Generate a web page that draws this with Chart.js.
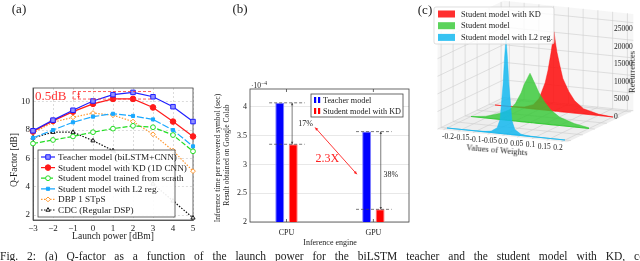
<!DOCTYPE html>
<html lang="en">
<head>
<meta charset="UTF-8">
<title>KD figure</title>
<script src="https://cdn.jsdelivr.net/npm/chart.js"></script>
<style>
  body{margin:0; width:640px; height:261px; overflow:hidden; background:#fff; font-family:"Liberation Serif", serif; color:#222; position:relative;}
  .box{position:absolute;}
  .t{position:absolute; white-space:nowrap; line-height:1; transform:translate(-50%,-50%);}
  .r90{transform:translate(-50%,-50%) rotate(-90deg);}
</style>
</head>
<body>
<div class="box" style="left:0;top:0;width:210px;height:261px"><canvas id="chartA"></canvas></div>
<div class="box" style="left:210px;top:0;width:210px;height:261px"><canvas id="chartB"></canvas></div>
<div class="box" style="left:420px;top:0;width:220px;height:160px"><canvas id="chartC"></canvas></div>

<div class="t" style="left:19px;top:8px;font-size:13px">(a)</div>
<div class="t r90" style="left:15px;top:160px;font-size:9.5px">Q-Factor [dB]</div>
<div class="t" style="left:113px;top:237px;font-size:9.5px">Launch power [dBm]</div>

<div class="t" style="left:240px;top:8px;font-size:13px">(b)</div>
<div class="t" style="left:259px;top:85px;font-size:7.5px">·10<sup style="font-size:5.5px">−4</sup></div>
<div class="t r90" style="left:218px;top:158px;font-size:7.6px">Inference time per recovered symbol (sec)</div>
<div class="t r90" style="left:227px;top:155px;font-size:7.6px">Result obtained on Google Colab</div>
<div class="t" style="left:330px;top:243px;font-size:8px">Inference engine</div>

<div class="t" style="left:425px;top:9px;font-size:13px">(c)</div>
<div class="t r90" style="left:632px;top:72px;font-size:8.5px">Recurrences</div>
<div class="t" style="left:497px;top:150px;font-size:8.5px;transform:translate(-50%,-50%) rotate(5deg)">Values of Weights</div>

<div style="position:absolute;left:0;top:250px;font-size:11.5px;word-spacing:6px;white-space:nowrap;line-height:1.2">Fig. 2: (a) Q-factor as a function of the launch power for the biLSTM teacher and the student model with KD, compared to the</div>

<script>
const FONT = "'Liberation Serif', serif";

// (a) Q-factor vs launch power
const launchPower = [-3, -2, -1, 0, 1, 2, 3, 4, 5];
const qTeacher   = [7.95, 8.7, 9.4, 10.05, 10.5, 10.66, 10.35, 9.65, 8.6];
const qStudentKD = [7.9, 8.65, 9.3, 9.85, 10.2, 10.2, 9.6, 8.6, 7.55];
const qScratch   = [7.05, 7.3, 7.55, 7.85, 8.1, 8.3, 8.2, 7.65, 6.5];
const qL2        = [7.45, 8.0, 8.55, 8.95, 9.15, 9.0, 8.75, 8.0, 6.85];
const qDBP       = [7.8, 8.55, 8.9, 9.2, 9.05, 8.6, 7.7, 6.55, 5.1];
const qCDC       = [7.45, 7.85, 7.85, 7.25, 6.55, 5.4, 4.2, 3.0, 1.8];
const qTicks = [2, 4, 6, 8, 10];
const gapTop = 10.72, gapBottom = 10.19;

// (b) inference time (x1e-4 s)
const engines = ['CPU', 'GPU'];
const timeTeacher   = [4.07, 3.57];
const timeStudentKD = [3.35, 2.22];
const timeTicks = [2, 2.5, 3, 3.5, 4];
const timeGain = ['17%', '38%'];

// (c) weight histograms
const weightBins    = [-0.2, -0.15, -0.1, -0.07, -0.05, -0.03, -0.02, -0.01, -0.005, 0, 0.005, 0.01, 0.02, 0.03, 0.05, 0.07, 0.1, 0.15, 0.2];
const countsKD      = [0, 0, 300, 1200, 3200, 7800, 11500, 16500, 19500, 22500, 19500, 16800, 13000, 9500, 6000, 3500, 1500, 400, 0];
const countsStudent = [0, 500, 1800, 3000, 4900, 8200, 10600, 12300, 13200, 14000, 13200, 12300, 10600, 8800, 6200, 4200, 2400, 1000, 200];
const countsL2      = [0, 0, 50, 150, 400, 1500, 4000, 14000, 21500, 27200, 21500, 14000, 4000, 1500, 400, 150, 50, 0, 0];
const weightTicks = [-0.2, -0.15, -0.1, -0.05, 0, 0.05, 0.1, 0.15, 0.2];
const weightTickLabels = ['-0.2', '-0.15', '-0.1', '-0.05', '0.0', '0.05', '0.1', '0.15', '0.2'];
const countTicks = [0, 5000, 10000, 15000, 20000, 25000];

function arrow(ctx, x0, y0, x1, y1, h) {
  const a = Math.atan2(y1 - y0, x1 - x0);
  ctx.beginPath(); ctx.moveTo(x0, y0); ctx.lineTo(x1, y1); ctx.stroke();
  [[x1, y1, a], [x0, y0, a + Math.PI]].forEach(([x, y, t]) => {
    ctx.beginPath();
    ctx.moveTo(x, y);
    ctx.lineTo(x - h * 2 * Math.cos(t) + h * Math.sin(t), y - h * 2 * Math.sin(t) - h * Math.cos(t));
    ctx.lineTo(x - h * 2 * Math.cos(t) - h * Math.sin(t), y - h * 2 * Math.sin(t) + h * Math.cos(t));
    ctx.closePath(); ctx.fill();
  });
}

const framePlugin = {
  id: 'frame',
  beforeDatasetsDraw(chart) {
    const {ctx, chartArea: a} = chart;
    ctx.save();
    ctx.strokeStyle = '#444'; ctx.lineWidth = 0.8;
    ctx.strokeRect(a.left, a.top, a.right - a.left, a.bottom - a.top);
    if (chart.canvas.id === 'chartB') {
      chart.scales.x.ticks.forEach(t => {
        const px = chart.scales.x.getPixelForValue(t.value);
        ctx.beginPath(); ctx.moveTo(px, a.top); ctx.lineTo(px, a.top + 3);
        ctx.moveTo(px, a.bottom); ctx.lineTo(px, a.bottom - 3); ctx.stroke();
      });
    }
    ctx.restore();
  }
};

// ---------- (a)
const seriesA = [
  {label: 'Teacher model (biLSTM+CNN)', data: qTeacher, color: '#1f1fff', style: 'rect', r: 3.2, bg: '#9090ff', dash: []},
  {label: 'Student model with KD (1D CNN)', data: qStudentKD, color: '#ff1a1a', style: 'circle', r: 2.8, bg: '#ff1a1a', dash: []},
  {label: 'Student model trained from scrath', data: qScratch, color: '#22dd22', style: 'circle', r: 2.4, bg: '#ffffff', dash: [5, 2]},
  {label: 'Student model with L2 reg.', data: qL2, color: '#1aa8ff', style: 'rect', r: 2.2, bg: '#1aa8ff', dash: [7, 2]},
  {label: 'DBP 1 STpS', data: qDBP, color: '#ff9933', style: 'rectRot', r: 2.4, bg: '#ffffff', dash: [1.5, 1.5]},
  {label: 'CDC (Regular DSP)', data: qCDC, color: '#111111', style: 'triangle', r: 2.4, bg: '#ffffff', dash: [1.5, 1.5]}
];

const legendA = {
  id: 'legendA',
  afterDraw(chart) {
    const ctx = chart.ctx;
    ctx.save();
    ctx.fillStyle = 'rgba(255,255,255,0.92)';
    ctx.fillRect(38, 150, 137, 67);
    ctx.strokeStyle = '#444'; ctx.lineWidth = 0.8;
    ctx.strokeRect(38, 150, 137, 67);
    ctx.font = '9.2px ' + FONT; ctx.textBaseline = 'middle';
    seriesA.forEach((s, i) => {
      const y = 157 + i * 10.6;
      ctx.strokeStyle = s.color; ctx.lineWidth = 1.2; ctx.setLineDash(s.dash);
      ctx.beginPath(); ctx.moveTo(41, y); ctx.lineTo(55, y); ctx.stroke();
      ctx.setLineDash([]); ctx.lineWidth = 1;
      ctx.fillStyle = s.bg;
      Chart.helpers.drawPoint(ctx, {pointStyle: s.style, radius: s.r, borderWidth: 1, rotation: 0}, 48, y);
      ctx.fillStyle = '#222';
      ctx.fillText(s.label, 58, y + 0.5);
    });
    ctx.restore();
  }
};

const gapPlugin = {
  id: 'gap',
  afterDatasetsDraw(chart) {
    const {ctx, scales: {x, y}} = chart;
    const x0 = x.getPixelForValue(-1), x1 = x.getPixelForValue(3);
    const yt = y.getPixelForValue(gapTop), yb = y.getPixelForValue(gapBottom);
    ctx.save();
    ctx.strokeStyle = '#ff3333'; ctx.fillStyle = '#ff3333'; ctx.lineWidth = 0.8; ctx.setLineDash([3, 2]);
    ctx.beginPath();
    ctx.moveTo(x0, yt); ctx.lineTo(x1, yt);
    ctx.moveTo(x0, yb); ctx.lineTo(x1, yb);
    ctx.moveTo(x0, yt); ctx.lineTo(x0, yb);
    ctx.stroke();
    ctx.setLineDash([]);
    const xa = x.getPixelForValue(-0.72);
    arrow(ctx, xa, yt + 0.5, xa, yb - 0.5, 1.3);
    ctx.font = '13px ' + FONT; ctx.textBaseline = 'middle';
    ctx.fillText('0.5dB', 35, 96.5);
    ctx.restore();
  }
};

new Chart(document.getElementById('chartA'), {
  type: 'line',
  data: {
    datasets: seriesA.map(s => ({
      label: s.label,
      data: launchPower.map((p, i) => ({x: p, y: s.data[i]})),
      borderColor: s.color, borderWidth: 1.2, borderDash: s.dash,
      pointStyle: s.style, pointRadius: s.r, pointBackgroundColor: s.bg,
      pointBorderColor: s.color, pointBorderWidth: 1,
      tension: 0, clip: false
    }))
  },
  options: {
    responsive: true, maintainAspectRatio: false, animation: false,
    layout: {padding: {left: 0, top: 88, right: 17, bottom: 0}},
    plugins: {legend: {display: false}, tooltip: {enabled: false}},
    scales: {
      x: {
        type: 'linear', min: -3, max: 5,
        afterBuildTicks: ax => { ax.ticks = launchPower.map(v => ({value: v})); },
        afterFit: ax => { ax.height = 41; },
        ticks: {callback: v => String(v).replace('-', '\u2212'), font: {family: FONT, size: 9}, color: '#222', padding: 3, maxRotation: 0},
        grid: {color: '#c4c4c4', lineWidth: 0.6, drawTicks: false},
        border: {color: '#444', width: 0.8, dash: [2, 2]}
      },
      y: {
        min: 1.65, max: 10.97,
        afterBuildTicks: ax => { ax.ticks = qTicks.map(v => ({value: v})); },
        afterFit: ax => { ax.width = 33; },
        ticks: {font: {family: FONT, size: 9}, color: '#222', padding: 3},
        grid: {color: '#c4c4c4', lineWidth: 0.6, drawTicks: false},
        border: {color: '#444', width: 0.8, dash: [2, 2]}
      }
    }
  },
  plugins: [framePlugin, gapPlugin, legendA]
});

// ---------- (b)
const legendB = {
  id: 'legendB',
  afterDraw(chart) {
    const ctx = chart.ctx;
    ctx.save();
    ctx.fillStyle = '#fff'; ctx.fillRect(101, 94, 92, 23);
    ctx.strokeStyle = '#444'; ctx.lineWidth = 0.8; ctx.strokeRect(101, 94, 92, 23);
    ctx.font = '8.2px ' + FONT; ctx.textBaseline = 'middle';
    chart.data.datasets.forEach((d, i) => {
      const y = 100 + i * 11;
      ctx.fillStyle = d.backgroundColor;
      ctx.fillRect(104, y - 3, 2.2, 6);
      ctx.fillRect(108, y - 3, 2.2, 6);
      ctx.fillStyle = '#222';
      ctx.fillText(d.label, 113, y + 0.5);
    });
    ctx.restore();
  }
};

const gainPlugin = {
  id: 'gain',
  afterDatasetsDraw(chart) {
    const {ctx, scales: {x, y}} = chart;
    ctx.save();
    ctx.strokeStyle = '#444'; ctx.fillStyle = '#444'; ctx.lineWidth = 0.7;
    engines.forEach((e, i) => {
      ctx.setLineDash([3, 2]);
      ctx.beginPath();
      [timeTeacher[i], timeStudentKD[i]].forEach(v => {
        ctx.moveTo(x.getPixelForValue(i - 0.2), y.getPixelForValue(v));
        ctx.lineTo(x.getPixelForValue(i + 0.21), y.getPixelForValue(v));
      });
      ctx.stroke();
      ctx.setLineDash([]);
      const xa = x.getPixelForValue(i + 0.065 + i * 0.02);
      arrow(ctx, xa, y.getPixelForValue(timeTeacher[i]), xa, y.getPixelForValue(timeStudentKD[i]), 1.2);
    });
    ctx.font = '8px ' + FONT; ctx.textBaseline = 'middle'; ctx.textAlign = 'center'; ctx.fillStyle = '#222';
    ctx.fillText(timeGain[0], x.getPixelForValue(0.22), y.getPixelForValue(3.7));
    ctx.fillText(timeGain[1], x.getPixelForValue(1.2), y.getPixelForValue(2.81));
    ctx.strokeStyle = '#ff2020'; ctx.fillStyle = '#ff2020'; ctx.lineWidth = 0.9;
    arrow(ctx, x.getPixelForValue(0.33), y.getPixelForValue(3.64), x.getPixelForValue(0.81), y.getPixelForValue(2.83), 1.5);
    ctx.font = '12px ' + FONT;
    ctx.fillText('2.3X', x.getPixelForValue(0.47), y.getPixelForValue(3.09));
    ctx.restore();
  }
};

new Chart(document.getElementById('chartB'), {
  type: 'bar',
  data: {
    datasets: [
      {label: 'Teacher model', data: engines.map((e, i) => ({x: i, y: timeTeacher[i]})),
       backgroundColor: '#0000ff', borderColor: '#8080ff', borderWidth: 1, categoryPercentage: 0.31, barPercentage: 0.667},
      {label: 'Student model with KD', data: engines.map((e, i) => ({x: i, y: timeStudentKD[i]})),
       backgroundColor: '#ff0000', borderColor: '#ff8080', borderWidth: 1, categoryPercentage: 0.31, barPercentage: 0.667}
    ]
  },
  options: {
    responsive: true, maintainAspectRatio: false, animation: false,
    layout: {padding: {left: 0, top: 89, right: 11, bottom: 0}},
    plugins: {legend: {display: false}, tooltip: {enabled: false}},
    scales: {
      x: {
        type: 'linear', min: -0.42, max: 1.41, offset: false,
        afterBuildTicks: ax => { ax.ticks = engines.map((e, i) => ({value: i})); },
        afterFit: ax => { ax.height = 39; },
        ticks: {callback: v => engines[v], font: {family: FONT, size: 8}, color: '#222', padding: 6, maxRotation: 0},
        grid: {display: false, drawTicks: false},
        border: {display: false}
      },
      y: {
        min: 2, max: 4.31,
        afterBuildTicks: ax => { ax.ticks = timeTicks.map(v => ({value: v})); },
        afterFit: ax => { ax.width = 40; },
        ticks: {font: {family: FONT, size: 8}, color: '#222', padding: 3, callback: v => String(v)},
        grid: {color: '#d8d8d8', lineWidth: 0.6, drawTicks: false},
        border: {display: false}
      }
    }
  },
  plugins: [framePlugin, gainPlugin, legendB]
});

// ---------- (c)
// oblique projection of (weight, series depth, count) into the page-pixel scales of the chart
function proj(w, s, c) {
  return {x: 506 + 295 * w + 24 * s, y: 134 + 30 * w - 11.5 * s - 0.00352 * c};
}
const W0 = -0.22, W1 = 0.22, S0 = -0.15, S1 = 2.6, C1 = 27500;

const seriesC = [
  {label: 'Student model with L2 reg.', counts: countsL2, depth: 0, fill: 'rgba(20,185,240,0.85)', line: '#2bbcf0'},
  {label: 'Student model', counts: countsStudent, depth: 1, fill: 'rgba(50,200,50,0.8)', line: '#3fcf3f'},
  {label: 'Student model with KD', counts: countsKD, depth: 2, fill: 'rgba(255,10,10,0.85)', line: '#ff5a5a'}
];

const panesPlugin = {
  id: 'panes',
  beforeDatasetsDraw(chart) {
    const {ctx, scales: {x, y}} = chart;
    const pt = (w, s, c) => { const p = proj(w, s, c); return [x.getPixelForValue(p.x), y.getPixelForValue(p.y)]; };
    const poly = pts => { ctx.beginPath(); pts.forEach((p, i) => i ? ctx.lineTo(p[0], p[1]) : ctx.moveTo(p[0], p[1])); ctx.closePath(); };
    const seg = (a, b) => { ctx.beginPath(); ctx.moveTo(a[0], a[1]); ctx.lineTo(b[0], b[1]); ctx.stroke(); };
    ctx.save();
    ctx.fillStyle = 'rgba(238,238,238,0.55)';
    poly([pt(W0, S0, 0), pt(W0, S1, 0), pt(W0, S1, C1), pt(W0, S0, C1)]); ctx.fill();
    poly([pt(W0, S1, 0), pt(W1, S1, 0), pt(W1, S1, C1), pt(W0, S1, C1)]); ctx.fill();
    ctx.fillStyle = 'rgba(232,232,232,0.75)';
    poly([pt(W0, S0, 0), pt(W1, S0, 0), pt(W1, S1, 0), pt(W0, S1, 0)]); ctx.fill();
    ctx.strokeStyle = 'rgba(205,205,205,1)'; ctx.lineWidth = 0.6;
    weightTicks.forEach(w => { seg(pt(w, S0, 0), pt(w, S1, 0)); seg(pt(w, S1, 0), pt(w, S1, C1)); });
    [0, 0.5, 1, 1.5, 2, 2.5].forEach(s => { seg(pt(W0, s, 0), pt(W1, s, 0)); seg(pt(W0, s, 0), pt(W0, s, C1)); });
    countTicks.forEach(c => { seg(pt(W0, S0, c), pt(W0, S1, c)); seg(pt(W0, S1, c), pt(W1, S1, c)); });
    ctx.fillStyle = '#222'; ctx.font = '7.5px ' + FONT; ctx.textAlign = 'center'; ctx.textBaseline = 'middle';
    weightTicks.forEach((w, i) => {
      ctx.fillText(weightTickLabels[i], x.getPixelForValue(448 + 275 * (w + 0.2)), y.getPixelForValue(137 + 27.5 * (w + 0.2)));
    });
    // count axis labels at the right-hand corner of the box
    ctx.textAlign = 'left';
    countTicks.forEach(c => {
      const p = proj(0.2, 2, c);
      ctx.fillText(String(c), x.getPixelForValue(p.x + 1), y.getPixelForValue(p.y));
    });
    ctx.restore();
  }
};

const legendC = {
  id: 'legendC',
  afterDraw(chart) {
    const ctx = chart.ctx;
    ctx.save();
    ctx.fillStyle = 'rgba(255,255,255,0.82)'; ctx.strokeStyle = '#d0d0d0'; ctx.lineWidth = 0.7;
    ctx.beginPath(); ctx.roundRect(14, 7, 120, 37, 2); ctx.fill(); ctx.stroke();
    ctx.font = '8.4px ' + FONT; ctx.textBaseline = 'middle';
    seriesC.slice().reverse().forEach((s, i) => {
      const yy = 14 + i * 11.7;
      ctx.fillStyle = s.fill; ctx.fillRect(18, yy - 3.5, 17, 7);
      ctx.fillStyle = '#222'; ctx.fillText(s.label, 41, yy + 0.5);
    });
    ctx.restore();
  }
};

new Chart(document.getElementById('chartC'), {
  type: 'line',
  data: {
    datasets: [
      ...seriesC.map((s, i) => ({
        label: s.label,
        data: weightBins.map((w, k) => proj(w, s.depth, s.counts[k])),
        borderColor: s.fill, backgroundColor: s.fill, borderWidth: 0.5,
        pointRadius: 0, tension: 0, clip: false, fill: seriesC.length + i
      })),
      ...seriesC.map(s => ({
        label: s.label + ' base',
        data: weightBins.map(w => proj(w, s.depth, 0)),
        borderColor: s.line, borderWidth: 1.1, pointRadius: 0, tension: 0, clip: false, fill: false
      }))
    ]
  },
  options: {
    responsive: true, maintainAspectRatio: false, animation: false,
    layout: {padding: 0},
    plugins: {legend: {display: false}, tooltip: {enabled: false}},
    scales: {
      x: {type: 'linear', min: 420, max: 640, display: false},
      y: {type: 'linear', min: 0, max: 160, reverse: true, display: false}
    }
  },
  plugins: [panesPlugin, legendC]
});
</script>
</body>
</html>
